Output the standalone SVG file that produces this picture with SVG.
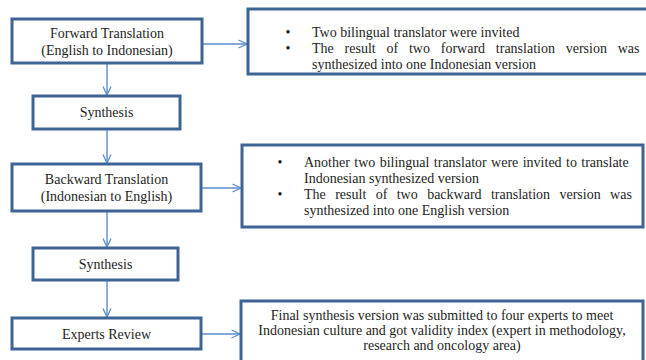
<svg xmlns="http://www.w3.org/2000/svg" width="646" height="360" viewBox="0 0 646 360">
  <defs>
    <marker id="arrow" viewBox="0 0 10 10" refX="9.5" refY="5" markerWidth="10" markerHeight="10" markerUnits="userSpaceOnUse" orient="auto">
      <path d="M1,1 L9.5,5 L1,9" fill="none" stroke="#5b8ccc" stroke-width="1.3"/>
    </marker>
  </defs>
  <style>
    .box { fill: #ffffff; stroke: #3e6496; stroke-width: 3; }
    .t { font-family: "Liberation Serif", "Times New Roman", serif; font-size: 14px; fill: #1e1e1e; }
    .c { text-anchor: middle; }
    .link { stroke: #5b8ccc; stroke-width: 1.4; fill: none; marker-end: url(#arrow); }
  </style>
  <rect width="646" height="360" fill="#ffffff"/>

  <!-- connectors -->
  <g id="connectors">
    <line class="link" x1="107" y1="63" x2="107" y2="95"/>
    <line class="link" x1="107" y1="129" x2="107" y2="163"/>
    <line class="link" x1="107" y1="211" x2="107" y2="247"/>
    <line class="link" x1="107" y1="280" x2="107" y2="317"/>
    <line class="link" x1="202" y1="44" x2="247" y2="44"/>
    <line class="link" x1="201" y1="188" x2="241" y2="188"/>
    <line class="link" x1="201" y1="334" x2="240" y2="334"/>
  </g>

  <!-- process steps -->
  <g id="forward">
    <rect class="box" x="12" y="19" width="190" height="44"/>
    <text class="t c" x="107" y="38">Forward Translation</text>
    <text class="t c" x="107" y="55">(English to Indonesian)</text>
  </g>
  <g id="synthesis1">
    <rect class="box" x="33" y="96" width="147" height="33"/>
    <text class="t c" x="106.5" y="117">Synthesis</text>
  </g>
  <g id="backward">
    <rect class="box" x="12" y="164" width="189" height="47"/>
    <text class="t c" x="106.5" y="184">Backward Translation</text>
    <text class="t c" x="106.5" y="201">(Indonesian to English)</text>
  </g>
  <g id="synthesis2">
    <rect class="box" x="33" y="248" width="145" height="32"/>
    <text class="t c" x="105.5" y="268.5">Synthesis</text>
  </g>
  <g id="experts">
    <rect class="box" x="12" y="318" width="189" height="31"/>
    <text class="t c" x="106.5" y="338.5">Experts Review</text>
  </g>

  <!-- notes -->
  <g id="note1">
    <rect class="box" x="248" y="9" width="410" height="65"/>
    <text class="t c" x="288" y="37">•</text>
    <text class="t" x="312" y="37">Two bilingual translator were invited</text>
    <text class="t c" x="288" y="53">•</text>
    <text class="t" x="312" y="53" word-spacing="7.3">The result of two forward translation version was</text>
    <text class="t" x="312" y="69">synthesized into one Indonesian version</text>
  </g>
  <g id="note2">
    <rect class="box" x="242" y="145" width="401" height="82"/>
    <text class="t c" x="280" y="167">•</text>
    <text class="t" x="304" y="167" word-spacing="0.9">Another two bilingual translator were invited to translate</text>
    <text class="t" x="304" y="183">Indonesian synthesized version</text>
    <text class="t c" x="280" y="199">•</text>
    <text class="t" x="304" y="199" word-spacing="5.9">The result of two backward translation version was</text>
    <text class="t" x="304" y="215">synthesized into one English version</text>
  </g>
  <g id="note3">
    <rect class="box" x="241" y="301" width="402" height="70"/>
    <text class="t c" x="442" y="320">Final synthesis version was submitted to four experts to meet</text>
    <text class="t c" x="442" y="335">Indonesian culture and got validity index (expert in methodology,</text>
    <text class="t c" x="442" y="350">research and oncology area)</text>
  </g>
</svg>
